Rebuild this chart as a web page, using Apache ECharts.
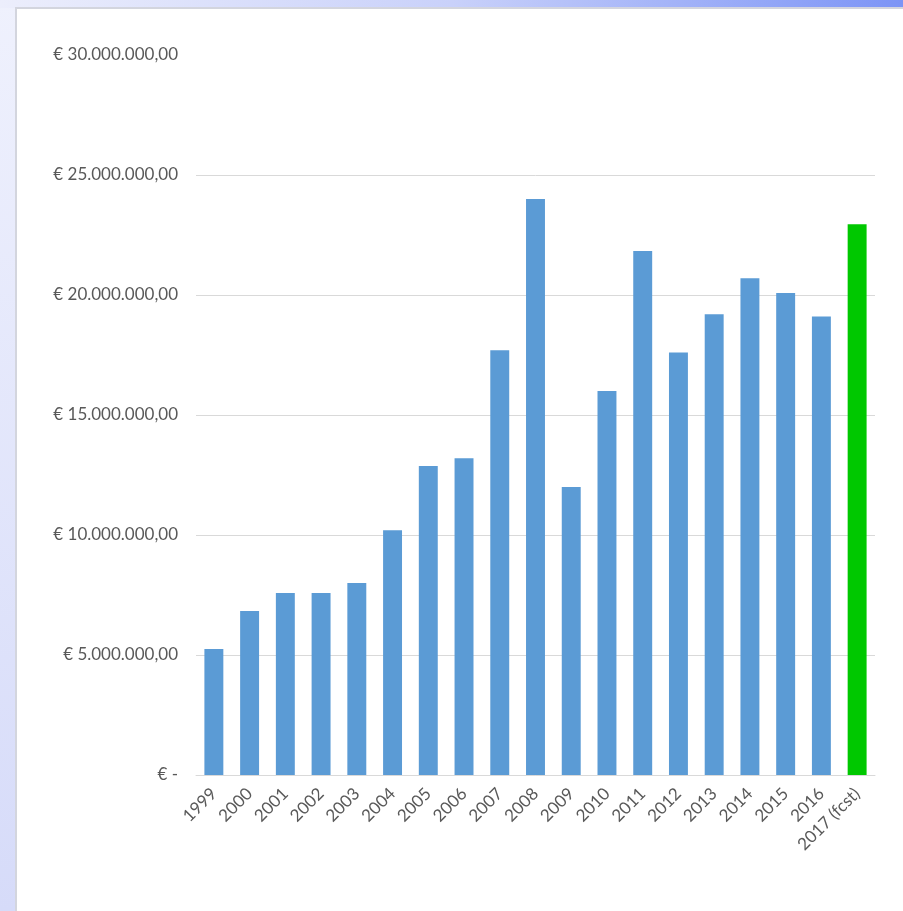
<!DOCTYPE html>
<html>
<head>
<meta charset="utf-8">
<script src="https://cdn.jsdelivr.net/npm/echarts@6/dist/echarts.min.js"></script>
<style>
html,body{margin:0;padding:0;width:903px;height:911px;overflow:hidden;}
#bg{position:absolute;left:0;top:0;width:903px;height:911px;background:linear-gradient(180deg,#eff1fd 0%,#d6dbf9 100%);}
#topstrip{position:absolute;left:0;top:0;width:903px;height:8px;background:linear-gradient(90deg,#eceefc 0%,#c9d1fa 50%,#7c94f6 100%);}
#panel{position:absolute;left:15px;top:7px;width:888px;height:904px;background:#fff;border-left:2px solid #d3d5de;border-top:2px solid #d3d5de;box-sizing:border-box;}
#chart{position:absolute;left:0;top:0;width:903px;height:911px;}
</style>
</head>
<body>
<div id="bg"></div>
<div id="topstrip"></div>
<div id="panel"></div>
<div id="chart"></div>
<script>
const categories = ['1999','2000','2001','2002','2003','2004','2005','2006','2007','2008','2009','2010','2011','2012','2013','2014','2015','2016','2017 (fcst)'];
const values = [5250000, 6830000, 7580000, 7580000, 8000000, 10200000, 12870000, 13200000, 17700000, 24000000, 12000000, 16000000, 21830000, 17600000, 19200000, 20700000, 20080000, 19100000, 22950000];
const forecastIndex = 18;
const yMin = 0, yMax = 30000000, yStep = 5000000;

function euro(v){
  if (v === 0) return '€ -';
  const s = Math.round(v).toString().replace(/\B(?=(\d{3})+(?!\d))/g, '.');
  return '€ ' + s + ',00';
}

const chart = echarts.init(document.getElementById('chart'), null, {renderer:'canvas'});
chart.setOption({
  backgroundColor: 'transparent',
  animation: false,
  grid: {left: 196, right: 28, top: 55, bottom: 136, containLabel: false},
  xAxis: {
    type: 'category',
    data: categories,
    axisLine: {show: true, lineStyle: {color: '#d9d9d9', width: 1}},
    axisTick: {show: false},
    axisLabel: {rotate: 45, color: '#595959', fontFamily: 'Lato', fontSize: 17, margin: 16, interval: 0}
  },
  yAxis: {
    type: 'value',
    min: yMin, max: yMax, interval: yStep,
    axisLine: {show: false},
    axisTick: {show: false},
    axisLabel: {formatter: euro, color: '#595959', fontFamily: 'Lato', fontSize: 17, margin: 18},
    splitLine: {show: true, lineStyle: {color: ['#d9d9d9','#d9d9d9','#d9d9d9','#d9d9d9','#d9d9d9','#d9d9d9','rgba(0,0,0,0)'], width: 1}}
  },
  series: [{
    type: 'bar',
    data: values.map((v,i) => ({value: v, itemStyle: {color: i === forecastIndex ? '#00c800' : '#5b9bd5'}})),
    barWidth: '53%'
  }]
});
</script>
</body>
</html>
